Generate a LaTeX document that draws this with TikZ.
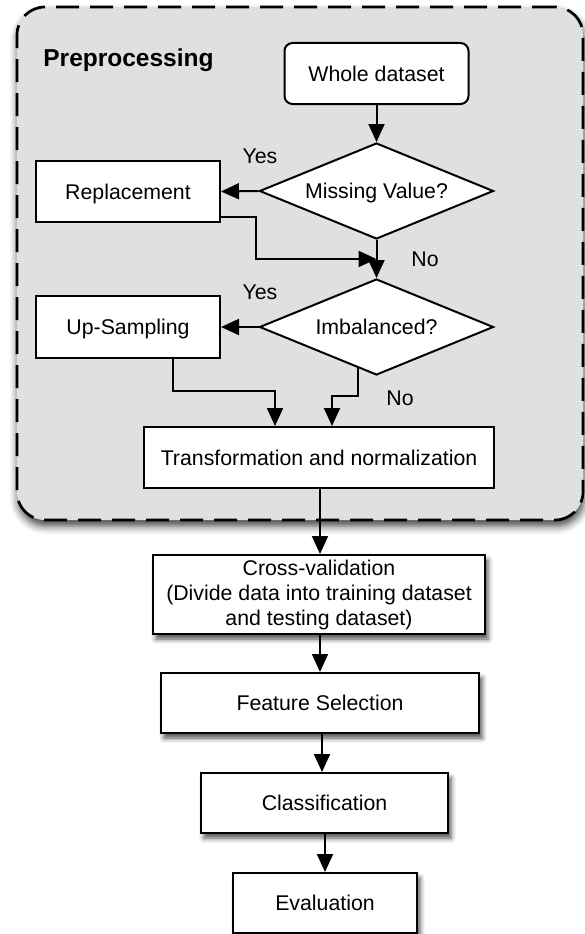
\documentclass[tikz,border=0pt]{standalone}
\usepackage{fontspec}
\setmainfont{Liberation Sans}
\usetikzlibrary{shapes.geometric,arrows.meta,calc,shadows.blur}
\definecolor{prepgray}{RGB}{224,224,224}
\begin{document}
\begin{tikzpicture}[x=1pt,y=-1pt,
  every node/.style={font=\fontsize{21.3}{25}\selectfont},
  container/.style={draw, line width=2.7pt, dash pattern=on 23pt off 11pt, fill=prepgray,
    rounded corners=28pt, inner sep=0pt,
    blur shadow={shadow xshift=1pt, shadow yshift=-6pt, shadow blur radius=8pt, shadow opacity=75}},
  box/.style={draw, line width=2pt, fill=white, inner sep=0pt, minimum height=61pt,
    text height=15.3pt, text depth=0pt},
  sbox/.style={box, blur shadow={shadow xshift=3pt, shadow yshift=-5pt, shadow blur radius=5pt, shadow opacity=70}},
  cvbox/.style={draw, line width=2pt, fill=white, inner sep=0pt, align=center,
    blur shadow={shadow xshift=3pt, shadow yshift=-5pt, shadow blur radius=5pt, shadow opacity=70}},
  dia/.style={draw, line width=2pt, fill=white, shape=diamond, aspect=2.44, inner sep=0pt,
    minimum width=234pt, minimum height=96pt, text height=15.3pt, text depth=0pt},
  lbl/.style={inner sep=0pt, text height=15.3pt, text depth=0pt},
  arr/.style={draw, line width=2pt, -{Triangle[length=18pt,width=16pt]}},
  ln/.style={draw, line width=2pt}
]
\useasboundingbox (0,0) rectangle (585,934);

% container
\node[container, minimum width=566pt, minimum height=513pt] (prepbox) at (300,263.5) {};
\node[inner sep=0pt, text height=17.5pt, text depth=0pt,
  font=\fontsize{24.5}{28}\selectfont\bfseries] (preplabel) at (128.5,58) {Preprocessing};

% nodes
\node[box, rounded corners=8pt, minimum width=184pt] (whole) at (376.5,73.5) {Whole dataset};
\node[dia] (miss) at (376.5,191) {Missing Value?};
\node[box, minimum width=184pt] (repl) at (128,191.5) {Replacement};
\node[dia] (imb) at (376.5,327) {Imbalanced?};
\node[box, minimum width=184pt, minimum height=62pt] (ups) at (128,327) {Up-Sampling};
\node[box, minimum width=350pt] (trans) at (319,457.5) {Transformation and normalization};
\node[cvbox, minimum width=332pt, minimum height=79pt] (cv) at (319,594.5)
  {Cross-validation\\(Divide data into training dataset\\and testing dataset)};
\node[sbox, minimum width=318pt, minimum height=60pt] (fs) at (320,703) {Feature Selection};
\node[sbox, minimum width=247pt, minimum height=60pt] (cls) at (324.5,803) {Classification};
\node[sbox, minimum width=184pt, minimum height=60pt] (eval) at (325,903) {Evaluation};

% labels
\node[lbl] (yes1) at (260,156) {Yes};
\node[lbl] (no1) at (425,259) {No};
\node[lbl] (yes2) at (260,292) {Yes};
\node[lbl] (no2) at (400,398) {No};

% helper coordinates
\coordinate (rj) at (256,217);
\coordinate (mj) at (miss.south |- 0,259);
\coordinate (u1) at (173,391);
\coordinate (u2) at (275,391);
\coordinate (ib) at ($(imb.west)!0.846!(imb.south)$);
\coordinate (i2) at (332,396);

% connectors
\path[arr] (whole.south) -- (miss.north);
\path[arr] (miss.west) -- (repl.east);
\path[arr] (repl.east |- rj) -- (rj) |- (mj);
\path[arr] (miss.south) -- (imb.north);
\path[arr] (imb.west) -- (ups.east);
\path[arr] (ups.south -| u1) -- (u1) -- (u2) -- (u2 |- trans.north);
\path[arr] (ib) |- (i2) -- (i2 |- trans.north);
\path[arr] (trans.south -| 320,0) -- (cv.north -| 320,0);
\path[arr] (cv.south -| 320,0) -- (fs.north -| 320,0);
\path[arr] (fs.south -| 322,0) -- (cls.north -| 322,0);
\path[arr] (cls.south -| 325,0) -- (eval.north -| 325,0);
\end{tikzpicture}
\end{document}
